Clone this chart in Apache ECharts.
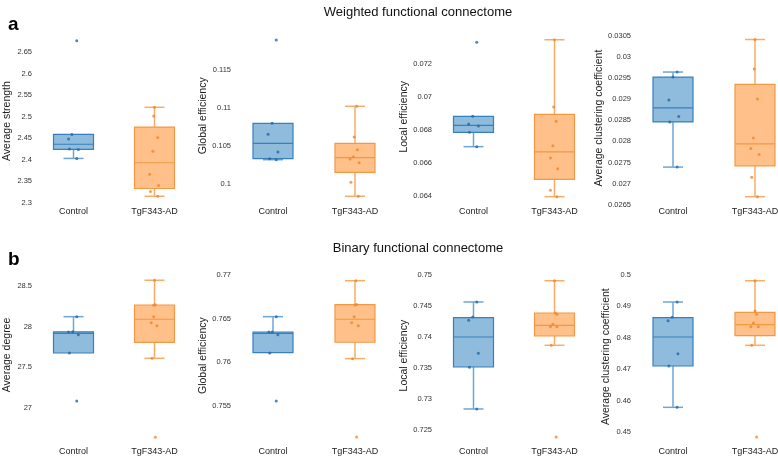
<!DOCTYPE html>
<html>
<head>
<meta charset="utf-8">
<script src="https://cdn.jsdelivr.net/npm/echarts@6/dist/echarts.min.js"></script>
<style>
  html, body { margin: 0; padding: 0; background: #fff; }
  #chart { width: 778px; height: 459px; }
</style>
</head>
<body>
<div id="chart"></div>
<script>
// groups on the x axis
var categories = ['Control', 'TgF343-AD'];

// weighted: average strength  (box = [low whisker, q1, median, q3, high whisker])
var strengthBox = [[2.403, 2.424, 2.436, 2.459, 2.459], [2.315, 2.333, 2.393, 2.476, 2.522]];
var strengthCtrl = [2.677, 2.459, 2.448, 2.425, 2.424, 2.403];
var strengthCtrlDx = [0.04, -0.02, -0.06, -0.05, 0.06, 0.04];
var strengthTg = [2.522, 2.502, 2.452, 2.420, 2.366, 2.340, 2.326, 2.315];
var strengthTgDx = [0, -0.01, 0.04, -0.02, -0.06, 0.05, -0.05, 0.04];
var strengthTicks = [2.3, 2.35, 2.4, 2.45, 2.5, 2.55, 2.6, 2.65];

// weighted: global efficiency
var wGlobBox = [[0.10323, 0.10336, 0.10538, 0.10800, 0.10800], [0.09843, 0.10157, 0.10349, 0.10538, 0.11024]];
var wGlobCtrl = [0.11894, 0.10800, 0.10656, 0.10424, 0.10336, 0.10323];
var wGlobCtrlDx = [0.04, -0.01, -0.06, 0.06, -0.04, 0.04];
var wGlobTg = [0.11024, 0.10621, 0.10454, 0.10362, 0.10332, 0.10283, 0.10026, 0.09843];
var wGlobTgDx = [0.02, -0.01, 0.03, -0.02, -0.06, 0.05, -0.05, 0.04];
var wGlobTicks = [0.1, 0.105, 0.11, 0.115];

// weighted: local efficiency
var wLocBox = [[0.06699, 0.06786, 0.06828, 0.06883, 0.06883], [0.06396, 0.06501, 0.06667, 0.06895, 0.07347]];
var wLocCtrl = [0.07332, 0.06883, 0.06836, 0.06824, 0.06786, 0.06699];
var wLocCtrlDx = [0.04, -0.01, -0.06, 0.06, -0.05, 0.04];
var wLocTg = [0.07347, 0.06939, 0.06853, 0.06705, 0.06630, 0.06565, 0.06435, 0.06396];
var wLocTgDx = [0, -0.01, 0.02, -0.02, -0.05, 0.04, -0.05, 0.03];
var wLocTicks = [0.064, 0.066, 0.068, 0.07, 0.072];

// weighted: average clustering coefficient
var wClustBox = [[0.02739, 0.02846, 0.02879, 0.02952, 0.02964], [0.02669, 0.02742, 0.02794, 0.02935, 0.03041]];
var wClustCtrl = [0.02964, 0.02952, 0.02898, 0.02859, 0.02846, 0.02739];
var wClustCtrlDx = [0.05, 0, -0.05, 0.07, -0.04, 0.05];
var wClustTg = [0.03041, 0.02971, 0.02900, 0.02808, 0.02783, 0.02769, 0.02715, 0.02669];
var wClustTgDx = [0, -0.01, 0.03, -0.02, -0.05, 0.05, -0.04, 0.03];
var wClustTicks = [0.0265, 0.027, 0.0275, 0.028, 0.0285, 0.029, 0.0295, 0.03, 0.0305];

// binary: average degree
var degreeBox = [[27.674, 27.674, 27.917, 27.935, 28.122], [27.609, 27.806, 28.090, 28.266, 28.571]];
var degreeCtrl = [28.122, 27.937, 27.933, 27.900, 27.674, 27.083];
var degreeCtrlDx = [0.04, -0.01, -0.06, 0.06, -0.05, 0.04];
var degreeTg = [28.571, 28.270, 28.262, 28.122, 28.048, 28.011, 27.609, 26.635];
var degreeTgDx = [0, 0.01, -0.01, -0.01, -0.04, 0.03, -0.03, 0.01];
var degreeTicks = [27, 27.5, 28, 28.5];

// binary: global efficiency
var bGlobBox = [[0.76105, 0.76108, 0.76330, 0.76346, 0.76522], [0.76040, 0.76228, 0.76492, 0.76659, 0.76935]];
var bGlobCtrl = [0.76522, 0.76346, 0.76346, 0.76315, 0.76105, 0.75554];
var bGlobCtrlDx = [0.04, -0.05, -0.01, 0.06, -0.04, 0.04];
var bGlobTg = [0.76935, 0.76662, 0.76655, 0.76522, 0.76453, 0.76418, 0.76040, 0.75141];
var bGlobTgDx = [0.01, 0.02, 0, -0.01, -0.04, 0.04, -0.03, 0.02];
var bGlobTicks = [0.755, 0.76, 0.765, 0.77];

// binary: local efficiency
var bLocBox = [[0.72839, 0.73516, 0.74, 0.74311, 0.74565], [0.73866, 0.74016, 0.74189, 0.74387, 0.74908]];
var bLocCtrl = [0.74565, 0.74323, 0.74269, 0.73737, 0.73511, 0.72839];
var bLocCtrlDx = [0.04, -0.01, -0.06, 0.06, -0.05, 0.04];
var bLocTg = [0.74908, 0.74387, 0.74366, 0.74205, 0.74166, 0.74166, 0.73866, 0.72387];
var bLocTgDx = [0, 0.01, 0.03, -0.02, -0.05, 0.03, -0.04, 0.02];
var bLocTicks = [0.725, 0.73, 0.735, 0.74, 0.745, 0.75];

// binary: average clustering coefficient
var bClustBox = [[0.45786, 0.47102, 0.48025, 0.48643, 0.49140], [0.47761, 0.48067, 0.48417, 0.48812, 0.49818]];
var bClustCtrl = [0.49140, 0.48653, 0.48545, 0.47494, 0.47102, 0.45786];
var bClustCtrlDx = [0.05, -0.01, -0.06, 0.06, -0.05, 0.05];
var bClustTg = [0.49818, 0.48854, 0.48748, 0.48471, 0.48354, 0.48354, 0.47761, 0.44841];
var bClustTgDx = [0, 0, 0.02, -0.02, -0.05, 0.04, -0.04, 0.02];
var bClustTicks = [0.45, 0.46, 0.47, 0.48, 0.49, 0.5];

// where each panel sits: left, width, two ticks with their pixel y, axis range, name gap
var panels = [
    {name: 'Average strength', box: strengthBox, ctrl: strengthCtrl, ctrlDx: strengthCtrlDx, tg: strengthTg, tgDx: strengthTgDx, ticks: strengthTicks,
     left: 33, width: 162, cal: [2.3, 202.7, 2.65, 52.3], min: 2.29, max: 2.69, gap: 20, xLab: 212},
    {name: 'Global efficiency', box: wGlobBox, ctrl: wGlobCtrl, ctrlDx: wGlobCtrlDx, tg: wGlobTg, tgDx: wGlobTgDx, ticks: wGlobTicks,
     left: 232, width: 164, cal: [0.1, 184.3, 0.115, 70], min: 0.098, max: 0.12, gap: 19, xLab: 212},
    {name: 'Local efficiency', box: wLocBox, ctrl: wLocCtrl, ctrlDx: wLocCtrlDx, tg: wLocTg, tgDx: wLocTgDx, ticks: wLocTicks,
     left: 433, width: 162, cal: [0.064, 196, 0.072, 64], min: 0.0638, max: 0.0738, gap: 22, xLab: 212},
    {name: 'Average clustering coefficient', box: wClustBox, ctrl: wClustCtrl, ctrlDx: wClustCtrlDx, tg: wClustTg, tgDx: wClustTgDx, ticks: wClustTicks,
     left: 632, width: 164, cal: [0.0265, 204.7, 0.0305, 35.7], min: 0.0265, max: 0.0306, gap: 24, xLab: 212},
    {name: 'Average degree', box: degreeBox, ctrl: degreeCtrl, ctrlDx: degreeCtrlDx, tg: degreeTg, tgDx: degreeTgDx, ticks: degreeTicks,
     left: 33, width: 162, cal: [27, 407.7, 28.5, 286], min: 26.6, max: 28.7, gap: 20, xLab: 452},
    {name: 'Global efficiency', box: bGlobBox, ctrl: bGlobCtrl, ctrlDx: bGlobCtrlDx, tg: bGlobTg, tgDx: bGlobTgDx, ticks: bGlobTicks,
     left: 232, width: 164, cal: [0.755, 405.7, 0.77, 275], min: 0.7505, max: 0.771, gap: 21, xLab: 452},
    {name: 'Local efficiency', box: bLocBox, ctrl: bLocCtrl, ctrlDx: bLocCtrlDx, tg: bLocTg, tgDx: bLocTgDx, ticks: bLocTicks,
     left: 433, width: 162, cal: [0.725, 430, 0.75, 275], min: 0.723, max: 0.751, gap: 22, xLab: 452},
    {name: 'Average clustering coefficient', box: bClustBox, ctrl: bClustCtrl, ctrlDx: bClustCtrlDx, tg: bClustTg, tgDx: bClustTgDx, ticks: bClustTicks,
     left: 632, width: 164, cal: [0.45, 432, 0.5, 275], min: 0.447, max: 0.501, gap: 20, xLab: 452}
];

var FONT = "'Liberation Sans', Arial, sans-serif";
// [control, TgF343-AD]
var boxFill = ['#8fbbdc', '#ffc08a'];
var boxLine = ['#3680c0', '#f39843'];
var whiskerLine = ['#6ea6d5', '#f7ad68'];
var dotColor = ['#1f6aa8', '#f0862a'];

function pixY(p, v) {
    var c = p.cal;
    return c[1] + (v - c[0]) * (c[3] - c[1]) / (c[2] - c[0]);
}

// box with half-width whisker caps, drawn through the axis scales
function renderBox(params, api) {
    var g = api.value(0);
    var cx = api.coord([g, api.value(1)])[0];
    var yLow = api.coord([g, api.value(1)])[1];
    var yQ1 = api.coord([g, api.value(2)])[1];
    var yMed = api.coord([g, api.value(3)])[1];
    var yQ3 = api.coord([g, api.value(4)])[1];
    var yHigh = api.coord([g, api.value(5)])[1];
    var hw = 20, cap = 10;
    var wl = {stroke: whiskerLine[g], lineWidth: 1.5};
    var children = [];
    if (Math.abs(yLow - yQ1) > 0.5) {
        children.push({type: 'line', shape: {x1: cx, y1: yQ1, x2: cx, y2: yLow}, style: wl});
        children.push({type: 'line', shape: {x1: cx - cap, y1: yLow, x2: cx + cap, y2: yLow}, style: wl});
    }
    if (Math.abs(yHigh - yQ3) > 0.5) {
        children.push({type: 'line', shape: {x1: cx, y1: yQ3, x2: cx, y2: yHigh}, style: wl});
        children.push({type: 'line', shape: {x1: cx - cap, y1: yHigh, x2: cx + cap, y2: yHigh}, style: wl});
    }
    children.push({type: 'rect', shape: {x: cx - hw, y: yQ3, width: 2 * hw, height: yQ1 - yQ3},
        style: {fill: boxFill[g], stroke: boxLine[g], lineWidth: 1.2}});
    children.push({type: 'line', shape: {x1: cx - hw, y1: yMed, x2: cx + hw, y2: yMed},
        style: {stroke: boxLine[g], lineWidth: 1.2}});
    return {type: 'group', children: children};
}

var grids = [], xAxes = [], jitterAxes = [], yAxes = [], series = [];

panels.forEach(function (p, i) {
    var top = pixY(p, p.max);
    var bottom = pixY(p, p.min);
    grids.push({left: p.left, top: top, width: p.width, height: bottom - top, outerBoundsMode: 'none'});
    xAxes.push({
        type: 'category', gridIndex: i, data: categories,
        axisLine: {show: false}, axisTick: {show: false},
        axisLabel: {fontFamily: FONT, fontSize: 9, color: '#222', margin: p.xLab - bottom - 5}
    });
    jitterAxes.push({type: 'value', gridIndex: i, min: -0.5, max: 1.5, show: false});
    yAxes.push({
        type: 'value', gridIndex: i, min: p.min, max: p.max, scale: true,
        name: p.name, nameLocation: 'middle', nameGap: p.gap,
        nameTextStyle: {fontFamily: FONT, fontSize: 10.5, color: '#222'},
        axisLine: {show: false}, axisTick: {show: false}, splitLine: {show: false},
        axisLabel: {
            fontFamily: FONT, fontSize: 7.5, color: '#333', margin: 1,
            customValues: p.ticks,
            formatter: function (v) { return String(+(+v).toFixed(6)); }
        }
    });
    series.push({
        type: 'custom', xAxisIndex: i, yAxisIndex: i, renderItem: renderBox,
        encode: {x: 0, y: [1, 2, 3, 4, 5]},
        data: [[0].concat(p.box[0]), [1].concat(p.box[1])]
    });
    series.push({
        type: 'scatter', xAxisIndex: 8 + i, yAxisIndex: i, symbolSize: 3, z: 5,
        itemStyle: {color: dotColor[0]},
        data: p.ctrl.map(function (v, k) { return [p.ctrlDx[k], v]; })
    });
    series.push({
        type: 'scatter', xAxisIndex: 8 + i, yAxisIndex: i, symbolSize: 3, z: 5,
        itemStyle: {color: dotColor[1]},
        data: p.tg.map(function (v, k) { return [1 + p.tgDx[k], v]; })
    });
});

var chart = echarts.init(document.getElementById('chart'));
chart.setOption({
    animation: false,
    backgroundColor: '#fff',
    title: [
        {text: 'Weighted functional connectome', left: 413, top: 1, textAlign: 'center',
         textStyle: {fontFamily: FONT, fontSize: 13, fontWeight: 'normal', color: '#111'}},
        {text: 'Binary functional connectome', left: 413, top: 237, textAlign: 'center',
         textStyle: {fontFamily: FONT, fontSize: 13, fontWeight: 'normal', color: '#111'}},
        {text: 'a', left: 3, top: 10, textStyle: {fontFamily: FONT, fontSize: 19, fontWeight: 'bold', color: '#000'}},
        {text: 'b', left: 3, top: 245, textStyle: {fontFamily: FONT, fontSize: 19, fontWeight: 'bold', color: '#000'}}
    ],
    grid: grids,
    xAxis: xAxes.concat(jitterAxes),
    yAxis: yAxes,
    series: series
});
</script>
</body>
</html>
